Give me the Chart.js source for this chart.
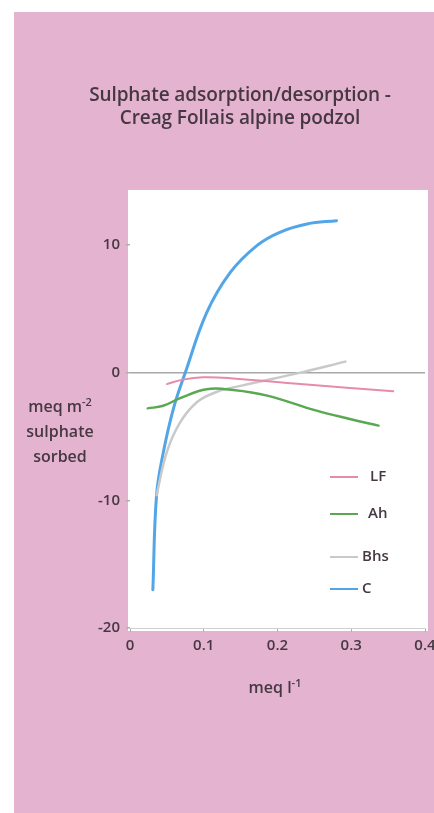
<!DOCTYPE html>
<html>
<head>
<meta charset="utf-8">
<script src="https://cdn.jsdelivr.net/npm/chart.js@4.4.1/dist/chart.umd.min.js"></script>
<style>
body { margin: 0; background: #fff; font-family: "Open Sans", sans-serif; color: #463843; }
#panel { position: absolute; left: 14px; top: 12px; width: 420px; height: 801px; background: #e4b3cf; }
#c { position: absolute; left: 0; top: 0; }
.txt { position: absolute; white-space: nowrap; }
#title { left: 40px; width: 400px; top: 83px; text-align: center; font-size: 19px; font-weight: 600; line-height: 23px; letter-spacing: -0.1px; }
#ylab { left: 8px; width: 104px; top: 394px; text-align: center; font-size: 16px; font-weight: 600; line-height: 25px; }
#xlab { left: 225px; width: 100px; top: 676px; text-align: center; font-size: 16px; font-weight: 600; }
sup { font-size: 11px; line-height: 0; }
.leg { position: absolute; left: 330px; font-size: 15px; font-weight: 600; height: 20px; line-height: 20px; }
.leg span { display: inline-block; width: 28px; height: 2px; vertical-align: middle; margin-right: 6px; }
</style>
</head>
<body>
<div id="panel"></div>
<canvas id="c" width="434" height="813"></canvas>
<div class="txt" id="title">Sulphate adsorption/desorption -<br>Creag Follais alpine podzol</div>
<div class="txt" id="ylab">meq m<sup>-2</sup><br>sulphate<br>sorbed</div>
<div class="txt" id="xlab">meq l<sup>-1</sup></div>
<div id="legend"></div>
<script>
// horizons
var seriesNames = ["LF", "Ah", "Bhs", "C"];
var seriesColors = ["#e78bab", "#5aa852", "#c9c9c9", "#52a6e8"];
var lineWidths = [2, 2.5, 2.5, 3];

// concentration (meq l-1) and sulphate sorbed (meq m-2)
var lfX = [0.050, 0.072, 0.099, 0.136, 0.231, 0.357];
var lfY = [-0.9, -0.55, -0.37, -0.44, -0.9, -1.46];
var ahX = [0.024, 0.045, 0.068, 0.104, 0.140, 0.186, 0.253, 0.298, 0.337];
var ahY = [-2.8, -2.6, -2.0, -1.3, -1.36, -1.8, -2.98, -3.63, -4.15];
var bhsX = [0.036, 0.050, 0.068, 0.091, 0.118, 0.153, 0.231, 0.292];
var bhsY = [-9.6, -6.2, -3.9, -2.3, -1.5, -1.0, 0, 0.86];
var cX = [0.031, 0.036, 0.045, 0.059, 0.075, 0.104, 0.136, 0.172, 0.203, 0.240, 0.280];
var cY = [-17.0, -9.6, -6.3, -2.8, 0, 4.7, 7.85, 9.95, 10.99, 11.64, 11.9];

var xTicks = [0, 0.1, 0.2, 0.3, 0.4];
var yTicks = [-20, -10, 0, 10];

var allX = [lfX, ahX, bhsX, cX];
var allY = [lfY, ahY, bhsY, cY];

function pts(xs, ys) {
	var out = [];
	for (var i = 0; i < xs.length; i++) out.push({x: xs[i], y: ys[i]});
	return out;
}

var datasets = seriesNames.map(function(name, i) {
	return {
		label: name,
		data: pts(allX[i], allY[i]),
		borderColor: seriesColors[i],
		borderWidth: lineWidths[i],
		borderCapStyle: 'round',
		pointRadius: 0,
		fill: false,
		tension: 0.4
	};
});

// legend, placed by hand like the original
var legTops = [465, 502, 545, 577];
var legLeft = [370, 368, 362, 362];
var legEl = document.getElementById('legend');
seriesNames.forEach(function(name, i) {
	var d = document.createElement('div');
	d.className = 'leg';
	d.style.top = legTops[i] + 'px';
	d.innerHTML = '<span style="background:' + seriesColors[i] + ';margin-right:' + (legLeft[i] - 358) + 'px"></span>' + name;
	legEl.appendChild(d);
});

var whiteBox = {
	id: 'whiteBox',
	beforeDraw: function(chart) {
		var a = chart.chartArea, ctx = chart.ctx;
		ctx.save();
		ctx.fillStyle = '#ffffff';
		ctx.fillRect(a.left - 2, a.top, a.right - a.left + 5, a.bottom - a.top + 3);
		ctx.restore();
	}
};

var config = {
	type: 'line',
	data: { datasets: datasets },
	options: {
		responsive: false,
		animation: false,
		layout: { padding: { left: 90, right: 9, top: 190, bottom: 145 } },
		plugins: { legend: { display: false }, tooltip: { enabled: false } },
		scales: {
			x: {
				type: 'linear',
				min: 0,
				max: 0.4,
				afterFit: function(s) { s.height = 40; s.paddingLeft = 0; s.paddingRight = 0; },
				afterBuildTicks: function(s) { s.ticks = xTicks.map(function(v) { return {value: v}; }); },
				border: { display: true, color: '#d0d0d0' },
				grid: { drawOnChartArea: false, tickLength: 4, color: '#b0b0b0' },
				ticks: {
					padding: 5,
					color: '#463843',
					font: { family: 'Open Sans', size: 15, weight: '600' },
					maxRotation: 0,
					callback: function(v) { return v === 0 ? '0' : v.toFixed(1); }
				}
			},
			y: {
				min: -20,
				max: 14.3,
				afterFit: function(s) { s.width = 40; s.paddingTop = 0; s.paddingBottom = 0; },
				afterBuildTicks: function(s) { s.ticks = yTicks.map(function(v) { return {value: v}; }); },
				border: { display: false },
				grid: {
					tickLength: 4,
					lineWidth: 1.5,
					tickColor: '#b0b0b0',
					color: function(c) { return c.tick && c.tick.value === 0 ? '#a8a8a8' : 'rgba(0,0,0,0)'; }
				},
				ticks: {
					padding: 6,
					color: '#463843',
					font: { family: 'Open Sans', size: 15, weight: '600' },
					callback: function(v) { return String(v); }
				}
			}
		}
	},
	plugins: [whiteBox]
};

window.onload = function() {
	window.myChart = new Chart(document.getElementById('c'), config);
};
</script>
</body>
</html>
